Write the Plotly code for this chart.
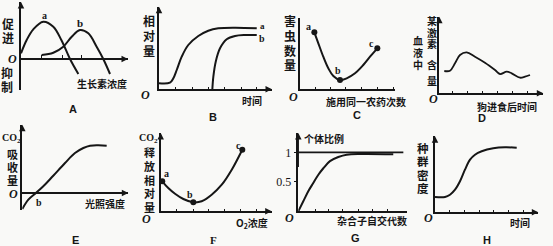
import plotly.graph_objects as go

W, H = 553, 246

# ---------------- data (axis units) ----------------
# A: growth hormone concentration curves a, b
A_x_a = [0, 0.53, 1.15, 2.08, 3.02, 3.77, 4.58, 5.36]
A_y_a = [0.57, 1.9, 2.97, 3.73, 3.23, 1.9, 0, -1.5]
A_x_b = [1.93, 3.02, 3.95, 4.74, 5.51, 6.29, 7.07, 7.69, 8.32]
A_y_b = [0.4, 0.63, 1.23, 2.23, 2.9, 2.57, 1.23, 0, -1.5]
A_ticks = [1.87, 3.86, 5.68]
# B: relative amount over time
B_x_a = [0, 0.97, 1.27, 1.57, 2.01, 2.59, 3.48, 4.36, 5.25, 6.73, 8.65]
B_y_a = [0.6, 0.66, 1.1, 1.93, 3.26, 4.43, 5.33, 5.86, 6.1, 6.16, 6.1]
B_x_b = [4.72, 4.81, 5.02, 5.4, 5.99, 6.73, 7.61, 8.65]
B_y_b = [0, 1.26, 2.76, 4.1, 5.0, 5.33, 5.43, 5.43]
B_ticks = [1.48, 2.95, 4.36, 5.78, 7.26, 8.65]
# C: pest numbers vs pesticide applications
C_x = [1.51, 1.93, 2.45, 2.98, 3.51, 4.21, 4.91, 5.79, 6.66, 7.37, 8.14]
C_y = [5.7, 4.6, 3.26, 2.1, 1.33, 0.93, 1.1, 1.6, 2.43, 3.26, 4.1]
C_pts = [0, 5, 10]
C_ticks = [1.58, 3.23, 4.84, 6.49, 8.14, 9.82]
# D: hormone level after feeding
D_x = [0.48, 1.03, 1.51, 1.99, 2.63, 3.43, 4.39, 5.36, 5.84, 6.48, 6.96, 7.76, 8.24, 8.72]
D_y = [2.23, 2.26, 3.0, 3.83, 4.1, 3.66, 3.06, 2.33, 1.93, 2.16, 2.0, 1.56, 1.66, 1.83]
D_ticks = [1.29, 2.69, 4.17, 5.58, 7.06, 8.46]
# E: CO2 uptake vs light intensity
E_x = [0, 0.57, 1.29, 1.98, 2.92, 4.03, 4.97, 5.76, 6.39, 7.17, 7.96]
E_y = [-1.6, -0.67, 0, 0.67, 1.73, 3.0, 4.0, 4.5, 4.73, 4.77, 4.73]
# F: CO2 release vs O2 concentration
F_x = [0.14, 0.68, 1.29, 2.04, 2.94, 3.69, 4.59, 5.5, 6.4, 7.35]
F_y = [3.0, 2.33, 1.76, 1.23, 0.9, 1.0, 1.66, 2.66, 4.16, 6.16]
F_pts = [0, 4, 9]
F_ticks = [1.44, 2.94, 4.35, 5.79, 7.23, 8.65]
# G: proportion vs generations of selfing
G_x = [0, 0.46, 0.92, 1.38, 1.85, 2.31, 2.92, 3.69, 4.46, 5.85, 8.76]
G_y = [0, 0.17, 0.34, 0.48, 0.62, 0.73, 0.85, 0.92, 0.96, 0.97, 0.966]
G_line_x = [0, 9.69]
G_line_y = [1, 1]
G_ticks = [1.63, 2.74, 4.12, 5.51, 6.89, 8.27]
G_yticks = [0.5, 1]
G_yticktext = ['0.5', '1']
# H: population density over time
H_x = [0, 0.97, 1.45, 1.94, 2.42, 2.9, 3.39, 3.87, 4.52, 5.64, 6.78, 7.91]
H_y = [1.53, 1.53, 1.76, 2.26, 3.1, 4.26, 5.26, 5.76, 6.1, 6.4, 6.5, 6.46]
H_ticks = [1.45, 2.87, 4.29, 5.71, 7.16, 8.59]

# ---------------- layout geometry (pixels) ----------------
P = {
    1: dict(x0=21, x1=128, y0=59, ytop=2, ybot=90, s=10, free=True),
    2: dict(x0=159, x1=272, y0=89.3, ytop=6.7, ybot=89.3, s=10, free=False),
    3: dict(x0=300, x1=395, y0=89.3, ytop=18, ybot=89.3, s=10, free=False),
    4: dict(x0=439.3, x1=543.3, y0=93.3, ytop=16.7, ybot=93.3, s=10, free=False),
    5: dict(x0=22.3, x1=128.3, y0=193, ytop=124.7, ybot=210.3, s=10, free=True),
    6: dict(x0=160.7, x1=271.7, y0=211.3, ytop=133, ybot=211.3, s=10, free=False),
    7: dict(x0=298.3, x1=406.7, y0=211.3, ytop=133, ybot=211.3, s=59, free=False),
    8: dict(x0=435, x1=538.3, y0=212.3, ytop=136.3, ybot=212.3, s=10, free=False),
}
TICKS = {1: A_ticks, 2: B_ticks, 3: C_ticks, 4: D_ticks, 5: [], 6: F_ticks, 7: G_ticks, 8: H_ticks}
INK = '#161616'
CJK = 'Noto Sans CJK SC'
SERIF = 'Liberation Serif'


def fx(x):
    return x / W


def fy(y):
    return 1 - y / H


def xn(i):
    return 'x' if i == 1 else f'x{i}'


def yn(i):
    return 'y' if i == 1 else f'y{i}'


fig = go.Figure()


def curve(i, xs, ys, width=2.0):
    fig.add_trace(go.Scatter(x=xs, y=ys, mode='lines', xaxis=xn(i), yaxis=yn(i),
                             line=dict(color=INK, width=width, shape='spline', smoothing=1.0),
                             hoverinfo='skip', showlegend=False, cliponaxis=False))


def dots(i, xs, ys):
    fig.add_trace(go.Scatter(x=xs, y=ys, mode='markers', xaxis=xn(i), yaxis=yn(i),
                             marker=dict(color=INK, size=6),
                             hoverinfo='skip', showlegend=False, cliponaxis=False))


curve(1, A_x_a, A_y_a)
curve(1, A_x_b, A_y_b)
curve(2, B_x_a, B_y_a)
curve(2, B_x_b, B_y_b)
curve(3, C_x, C_y)
dots(3, [C_x[k] for k in C_pts], [C_y[k] for k in C_pts])
curve(4, D_x, D_y, width=1.8)
curve(5, E_x, E_y)
curve(6, F_x, F_y)
dots(6, [F_x[k] for k in F_pts], [F_y[k] for k in F_pts])
fig.add_trace(go.Scatter(x=G_line_x, y=G_line_y, mode='lines', xaxis='x7', yaxis='y7',
                         line=dict(color=INK, width=1.8), hoverinfo='skip', showlegend=False))
curve(7, G_x, G_y)
curve(8, H_x, H_y)

layout = dict(width=W, height=H, margin=dict(l=0, r=0, t=0, b=0), autosize=False,
              paper_bgcolor='#f9f9f7', plot_bgcolor='rgba(0,0,0,0)', showlegend=False)

annotations = []

for i, p in P.items():
    yr = ((p['y0'] - p['ybot']) / p['s'], (p['y0'] - p['ytop']) / p['s'])
    xa = dict(domain=[fx(p['x0']), fx(p['x1'])], range=[0, 10], showgrid=False, zeroline=False,
              showline=True, linecolor=INK, linewidth=1.5, showticklabels=False,
              ticks='inside' if TICKS[i] else '', tickvals=TICKS[i], ticklen=3, tickwidth=1.3,
              tickcolor=INK, fixedrange=True)
    if p['free']:
        xa.update(anchor='free', position=fy(p['y0']))
    else:
        xa.update(anchor=yn(i))
    ya = dict(domain=[fy(p['ybot']), fy(p['ytop'])], range=list(yr), showgrid=False, zeroline=False,
              showline=True, linecolor=INK, linewidth=1.5, showticklabels=False, anchor=xn(i),
              fixedrange=True)
    if i == 7:
        ya.update(showticklabels=True, tickvals=G_yticks, ticktext=G_yticktext, ticks='outside',
                  ticklen=3, tickwidth=1.2, tickcolor=INK,
                  tickfont=dict(family=SERIF, size=12, color=INK))
    key = '' if i == 1 else str(i)
    layout['xaxis' + key] = xa
    layout['yaxis' + key] = ya
    if i != 3:
        annotations.append(dict(xref=xn(i), yref=yn(i), axref=xn(i), ayref=yn(i),
                                x=0, y=yr[1], ax=0, ay=yr[1] - 0.6, text='', showarrow=True,
                                arrowhead=2, arrowsize=1, arrowwidth=1.3, arrowcolor=INK, standoff=0))
    if i not in (3, 7):
        annotations.append(dict(xref=xn(i), yref=yn(i), axref=xn(i), ayref=yn(i),
                                x=10, y=0, ax=9.4, ay=0, text='', showarrow=True,
                                arrowhead=2, arrowsize=1, arrowwidth=1.3, arrowcolor=INK, standoff=0))


def txt(s, x, y, size=11, family=CJK, bold=True, italic=False):
    t = s
    if italic:
        t = f'<i>{t}</i>'
    annotations.append(dict(xref='paper', yref='paper', x=fx(x), y=fy(y), text=t, showarrow=False,
                            xanchor='center', yanchor='middle',
                            font=dict(family=family, size=size, color=INK,
                                      weight='bold' if bold else 'normal')))


def vtxt(s, x, y_first, step, size=11.5):
    for k, ch in enumerate(s):
        txt(ch, x, y_first + k * step, size=size)


# Panel A
vtxt('促进', 8, 23, 14, size=12)
vtxt('抑制', 7, 72, 14, size=12)
txt('O', 12, 59, size=12, family=SERIF, italic=True)
txt('生长素浓度', 102, 83, size=10)
txt('A', 73, 109, size=11, family='Liberation Sans')
txt('a', 44, 15, size=10, family=SERIF)
txt('b', 80, 23, size=11, family=SERIF)
# Panel B
vtxt('相对量', 149, 21, 14.5, size=12)
txt('O', 145, 95, size=12, family=SERIF, italic=True)
txt('时间', 252, 100, size=10)
txt('B', 213, 117, size=11, family='Liberation Sans')
txt('a', 262, 26, size=9, family=SERIF)
txt('b', 262, 38, size=10, family=SERIF)
# Panel C
vtxt('害虫数量', 290, 20, 15, size=12)
txt('O', 293, 97, size=12, family=SERIF, italic=True)
txt('施用同一农药次数', 366, 101, size=10)
txt('C', 357, 115, size=11, family='Liberation Sans')
txt('a', 308, 27, size=10, family=SERIF)
txt('b', 338, 71, size=10, family=SERIF)
txt('c', 371, 43, size=10, family=SERIF)
# Panel D
vtxt('某激素', 432, 20, 12, size=10)
vtxt('含量', 432, 65, 15, size=10)
vtxt('血液中', 418, 40, 12, size=10)
txt('O', 433, 99, size=12, family=SERIF, italic=True)
txt('狗进食后时间', 507, 106, size=10)
txt('D', 482, 118, size=11, family='Liberation Sans')
# Panel E
txt('CO<sub>2</sub>', 11, 138, size=10, family=SERIF)
vtxt('吸收量', 12, 154, 13, size=11)
txt('O', 13, 194, size=12, family=SERIF, italic=True)
txt('b', 39, 202, size=10, family=SERIF)
txt('光照强度', 105, 203, size=10)
txt('E', 75, 240, size=11, family='Liberation Sans')
# Panel F
txt('CO<sub>2</sub>', 148, 138, size=10, family=SERIF)
vtxt('释放相对量', 149, 152, 13.8, size=11)
txt('O', 146, 219, size=12, family=SERIF, italic=True)
txt('O<sub>2</sub>浓度', 252, 223, size=10)
txt('F', 213, 240, size=11, family=SERIF)
txt('a', 166, 173, size=10, family=SERIF)
txt('b', 190, 194, size=10, family=SERIF)
txt('c', 238, 145, size=10, family=SERIF)
# Panel G
txt('个体比例', 324, 138, size=10)
txt('O', 289, 218, size=12, family=SERIF, italic=True)
txt('杂合子自交代数', 372, 220, size=10)
txt('G', 355, 238, size=11, family='Liberation Sans')
# Panel H
vtxt('种群密度', 423, 148, 13.4, size=11.5)
txt('O', 428, 218, size=12, family=SERIF, italic=True)
txt('时间', 520, 222, size=10)
txt('H', 487, 240, size=11, family='Liberation Sans')

layout['annotations'] = annotations
fig.update_layout(**layout)
fig.write_html('out.html')
